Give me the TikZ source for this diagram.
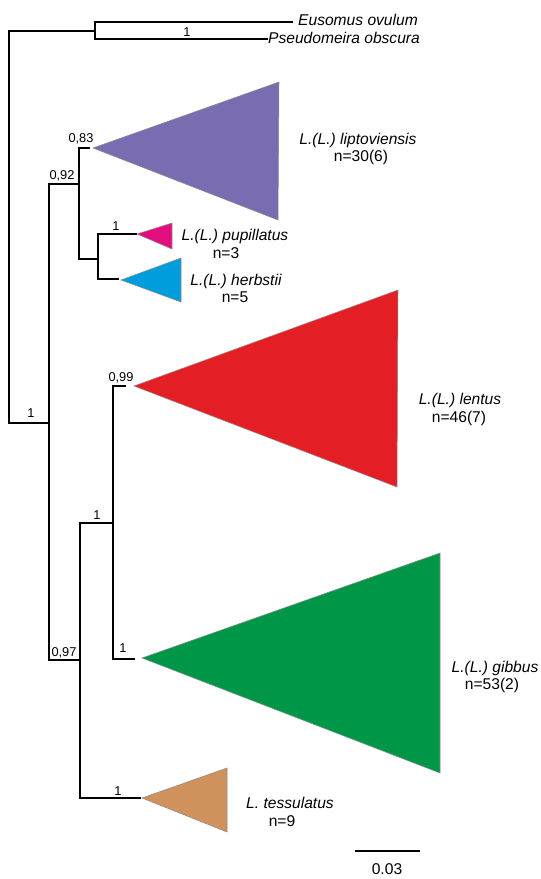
\documentclass[tikz,border=0pt]{standalone}
\usepackage{fontspec}
\setmainfont{Liberation Sans}
\usepackage{xcolor}
\usepackage{tikz}

\definecolor{liptocol}{RGB}{122,108,176}
\definecolor{pupcol}{RGB}{226,14,128}
\definecolor{herbcol}{RGB}{0,157,220}
\definecolor{lentcol}{RGB}{227,30,36}
\definecolor{gibbcol}{RGB}{0,150,72}
\definecolor{tesscol}{RGB}{207,146,92}

\tikzset{
  branch/.style={line width=1.5pt, line cap=rect},
  clade/.style={draw=black!45, line width=0.4pt},
  supp/.style={inner sep=0pt, font=\fontsize{9.6}{11}\selectfont},
  taxon/.style={inner sep=0pt, font=\fontsize{11.7}{13}\selectfont\itshape},
  count/.style={inner sep=0pt, font=\fontsize{11.7}{13}\selectfont}
}

\begin{document}
\begin{tikzpicture}[x=0.75pt,y=0.75pt,yscale=-1,xscale=1]
        \useasboundingbox (0,0) rectangle (540,879);
        % tree nodes
        \coordinate (root) at (9,31);
        \coordinate (out) at (95,31);
        \coordinate (eus) at (292,22);
        \coordinate (pse) at (267,39);
        \coordinate (ing) at (49,423);
        \coordinate (ca) at (79,184);
        \coordinate (lip) at (89,148);
        \coordinate (cab) at (98,259);
        \coordinate (pup) at (136,234);
        \coordinate (her) at (118,279);
        \coordinate (cb) at (80,660);
        \coordinate (cc) at (113,523);
        \coordinate (len) at (125,386);
        \coordinate (gib) at (134,659);
        \coordinate (tes) at (140,798);

        % branches
        \draw [branch] (root) -- (out);
        \draw [branch] (root) |- (ing);
        \draw [branch] (out) |- (eus);
        \draw [branch] (out) |- (pse);
        \draw [branch] (ing) |- (ca);
        \draw [branch] (ing) |- (cb);
        \draw [branch] (ca) |- (lip);
        \draw [branch] (ca) |- (cab);
        \draw [branch] (cab) |- (pup);
        \draw [branch] (cab) |- (her);
        \draw [branch] (cb) |- (cc);
        \draw [branch] (cb) |- (tes);
        \draw [branch] (cc) |- (len);
        \draw [branch] (cc) |- (gib);

        % collapsed clades
        \filldraw [clade, fill=liptocol] (93,148) -- (279,82) -- (278,220) -- cycle;
        \filldraw [clade, fill=pupcol] (137,234) -- (172,223) -- (172,249) -- cycle;
        \filldraw [clade, fill=herbcol] (121,280) -- (181,258) -- (181,302) -- cycle;
        \filldraw [clade, fill=lentcol] (134,386) -- (398,290) -- (397,487) -- cycle;
        \filldraw [clade, fill=gibbcol] (142,658) -- (440,553) -- (440,773) -- cycle;
        \filldraw [clade, fill=tesscol] (142,798) -- (227,768) -- (227,832) -- cycle;

        % support values
        \node [supp] (s1) at (187,32) {1};
        \node [supp] (s2) at (31,413) {1};
        \node [supp] (s3) at (62,176) {0,92};
        \node [supp] (s4) at (81,139) {0,83};
        \node [supp] (s5) at (116,226) {1};
        \node [supp] (s6) at (121,378) {0,99};
        \node [supp] (s7) at (97,515) {1};
        \node [supp] (s8) at (64,653) {0,97};
        \node [supp] (s9) at (123,648) {1};
        \node [supp] (s10) at (118,791) {1};

        % taxa
        \node [taxon] (teus) at (358,20) {Eusomus ovulum};
        \node [taxon] (tpse) at (344,38) {Pseudomeira obscura};
        \node [taxon] (tlip) at (358,140) {L.(L.) liptoviensis};
        \node [count] (nlip) at (361,157) {n=30(6)};
        \node [taxon] (tpup) at (235,236) {L.(L.) pupillatus};
        \node [count] (npup) at (226,253) {n=3};
        \node [taxon] (ther) at (236,281) {L.(L.) herbstii};
        \node [count] (nher) at (235,297) {n=5};
        \node [taxon] (tlen) at (460,400) {L.(L.) lentus};
        \node [count] (nlen) at (459,418) {n=46(7)};
        \node [taxon] (tgib) at (495,668) {L.(L.) gibbus};
        \node [count] (ngib) at (492,685) {n=53(2)};
        \node [taxon] (ttes) at (290,803) {L. tessulatus};
        \node [count] (ntes) at (282,821) {n=9};

        % scale bar
        \coordinate (sbl) at (355,851);
        \coordinate (sbr) at (420,851);
        \draw [line width=1pt] (sbl) -- (sbr);
        \node [count] (sblab) at (387,869) {0.03};
    \end{tikzpicture}
\end{document}
